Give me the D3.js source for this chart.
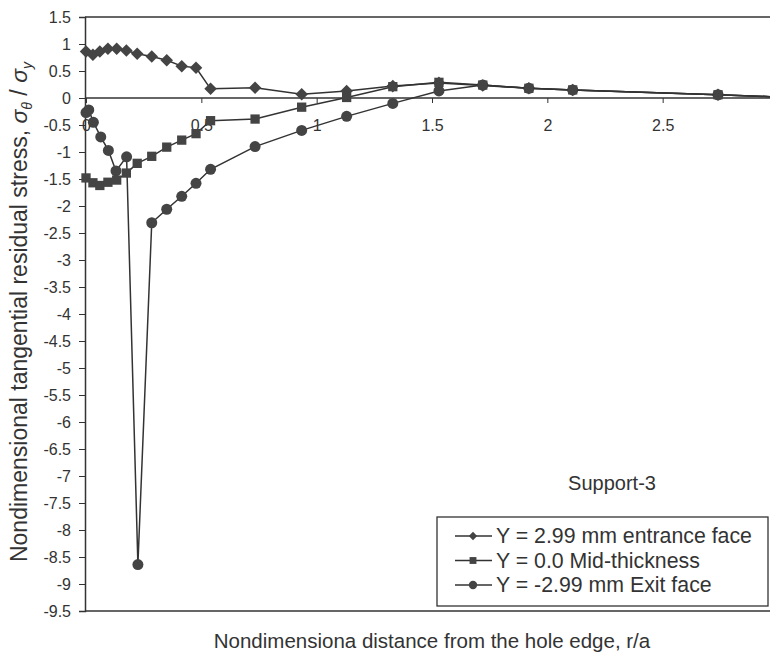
<!DOCTYPE html>
<html>
<head>
<meta charset="utf-8">
<script src="https://cdn.jsdelivr.net/npm/d3@7"></script>
<style>
  body { margin: 0; background: #fff; }
  svg { display: block; font-family: "Liberation Sans", Arial, sans-serif; }
</style>
</head>
<body>
<svg id="chart" width="770" height="658"></svg>
<script>
// r/a positions
const gridX = [0, 0.03, 0.06, 0.095, 0.133, 0.175, 0.222, 0.285, 0.35, 0.415, 0.477, 0.54,
               0.733, 0.935, 1.13, 1.33, 1.53, 1.72, 1.92, 2.11, 2.74, 3.0];
const exitX = [0, 0.012, 0.032, 0.064, 0.097, 0.13, 0.176, 0.225, 0.285, 0.35, 0.415, 0.477, 0.54,
               0.733, 0.935, 1.13, 1.33, 1.53, 1.72, 1.92, 2.11, 2.74, 3.0];

const entranceY = [0.86, 0.80, 0.86, 0.91, 0.91, 0.88, 0.82, 0.77, 0.70, 0.59, 0.56, 0.17,
                   0.19, 0.07, 0.13, 0.22, 0.28, 0.23, 0.18, 0.15, 0.06, 0.02];
const midY = [-1.48, -1.57, -1.62, -1.56, -1.52, -1.39, -1.21, -1.08, -0.91, -0.78, -0.66, -0.42,
              -0.39, -0.17, 0.01, 0.21, 0.29, 0.24, 0.18, 0.15, 0.06, 0.02];
const exitY = [-0.27, -0.22, -0.45, -0.72, -0.97, -1.35, -1.09, -8.64, -2.31, -2.06, -1.82, -1.58, -1.32,
               -0.90, -0.60, -0.34, -0.10, 0.13, 0.24, 0.18, 0.15, 0.06, 0.02];

const seriesNames = ["Y = 2.99 mm entrance face", "Y = 0.0 Mid-thickness", "Y = -2.99 mm Exit face"];
const xTicks = [0, 0.5, 1, 1.5, 2, 2.5];
const yTicks = d3.range(-9.5, 1.51, 0.5);

const svg = d3.select("#chart");
const plotL = 85, plotR = 778, plotT = 17, plotB = 611;
const ink = "#333", markFill = "#444";

const x = d3.scaleLinear().domain([0, 3]).range([plotL + 1, plotR]);
const y = d3.scaleLinear().domain([-9.5, 1.5]).range([plotB, plotT]);
const fmt = d => String(+d.toFixed(1));

// plot frame (runs off the right edge like the scan)
svg.append("line").attr("x1", plotL).attr("x2", 770).attr("y1", plotT).attr("y2", plotT)
  .attr("stroke", ink).attr("stroke-width", 1.5);
svg.append("line").attr("x1", plotL).attr("x2", 770).attr("y1", plotB).attr("y2", plotB)
  .attr("stroke", ink).attr("stroke-width", 1.5);

// y axis
const yAxis = svg.append("g").attr("transform", `translate(${plotL},0)`)
  .call(d3.axisLeft(y).tickValues(yTicks).tickFormat(fmt).tickSize(6).tickPadding(8));
yAxis.select(".domain").attr("stroke", ink).attr("stroke-width", 1.5);
yAxis.selectAll(".tick line").attr("stroke", ink);
yAxis.selectAll("text").attr("font-size", 16).attr("fill", "#333").attr("font-family", null);

// x axis through zero
const xAxis = svg.append("g").attr("transform", `translate(0,${y(0)})`)
  .call(d3.axisBottom(x).tickValues(xTicks).tickFormat(fmt).tickSize(5).tickPadding(17).tickSizeOuter(0));
xAxis.select(".domain").attr("stroke", ink).attr("stroke-width", 1.3).attr("d", `M${plotL},0H770`);
xAxis.selectAll(".tick line").attr("stroke", ink);
xAxis.selectAll("text").attr("font-size", 16).attr("fill", "#333").attr("font-family", null);

const line = d3.line().x(d => x(d[0])).y(d => y(d[1]));
const diamond = d3.symbol().type(d3.symbolDiamond2).size(100);
const square = d3.symbol().type(d3.symbolSquare2).size(110);
const circle = d3.symbol().type(d3.symbolCircle).size(95);

function drawSeries(xs, ys, sym) {
  const pts = xs.map((v, i) => [v, ys[i]]);
  svg.append("path").datum(pts).attr("fill", "none").attr("stroke", ink)
    .attr("stroke-width", 1.5).attr("d", line);
  svg.append("g").selectAll("path").data(pts).join("path")
    .attr("transform", d => `translate(${x(d[0])},${y(d[1])})`)
    .attr("d", sym).attr("fill", markFill).attr("stroke", "none");
}

drawSeries(exitX, exitY, circle);
drawSeries(gridX, entranceY, diamond);
drawSeries(gridX, midY, square);

// legend
svg.append("text").attr("x", 612).attr("y", 490).attr("text-anchor", "middle")
  .attr("font-size", 20).attr("fill", "#333").text("Support-3");

const lg = svg.append("g");
lg.append("rect").attr("x", 437).attr("y", 517).attr("width", 331).attr("height", 89)
  .attr("fill", "#fff").attr("stroke", ink).attr("stroke-width", 1.3);
const legendSyms = [
  d3.symbol().type(d3.symbolDiamond2).size(45),
  d3.symbol().type(d3.symbolSquare2).size(60),
  d3.symbol().type(d3.symbolCircle).size(55)
];
seriesNames.forEach((name, i) => {
  const cy = 536 + i * 24.5;
  lg.append("line").attr("x1", 455).attr("x2", 492).attr("y1", cy).attr("y2", cy)
    .attr("stroke", ink).attr("stroke-width", 1.4);
  lg.append("path").attr("transform", `translate(473,${cy})`).attr("d", legendSyms[i]).attr("fill", markFill);
  lg.append("text").attr("x", 496).attr("y", cy + 7).attr("font-size", 21.3).attr("fill", "#333").text(name);
});

// axis titles
svg.append("text").attr("x", 432).attr("y", 648).attr("text-anchor", "middle")
  .attr("font-size", 20.5).attr("fill", "#333")
  .text("Nondimensiona distance from the hole edge, r/a");

const yt = svg.append("text").attr("transform", "translate(27,312) rotate(-90)")
  .attr("text-anchor", "middle").attr("font-size", 23).attr("fill", "#333");
yt.append("tspan").text("Nondimensional tangential residual stress,  ");
yt.append("tspan").attr("font-style", "italic").text("σ");
yt.append("tspan").attr("font-style", "italic").attr("font-size", 14).attr("dy", 5).text("θ");
yt.append("tspan").attr("dy", -5).text(" / ");
yt.append("tspan").attr("font-style", "italic").text("σ");
yt.append("tspan").attr("font-style", "italic").attr("font-size", 14).attr("dy", 5).text("y");
</script>
</body>
</html>
